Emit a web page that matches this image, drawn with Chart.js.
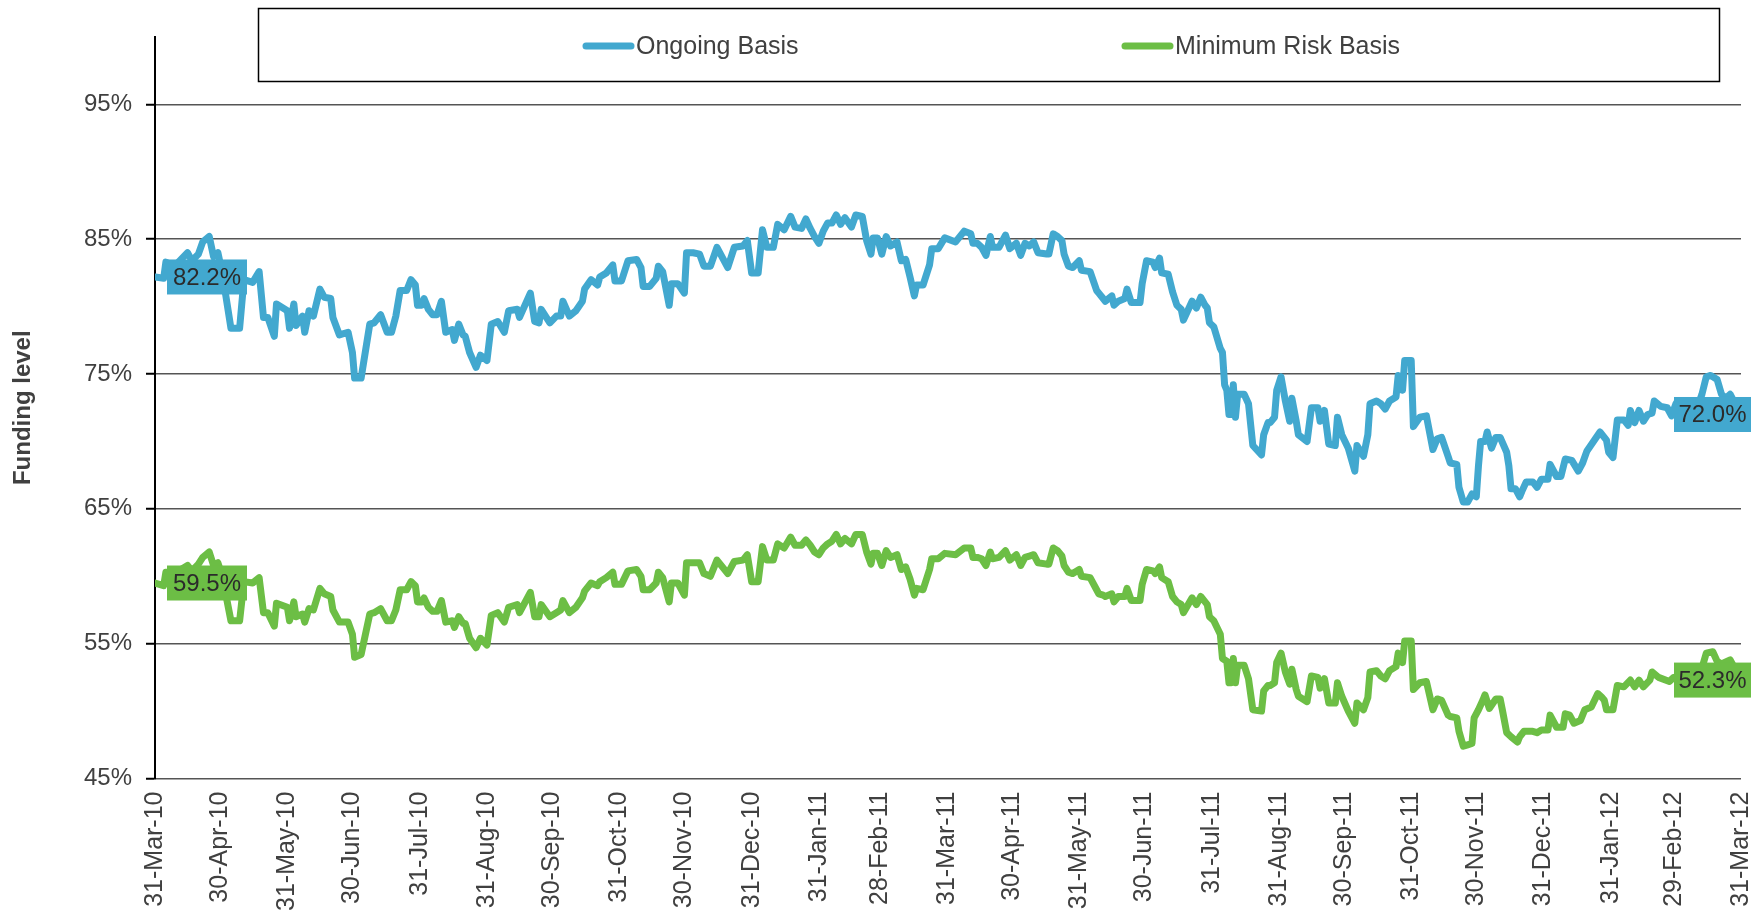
<!DOCTYPE html>
<html>
<head>
<meta charset="utf-8">
<script src="https://cdn.jsdelivr.net/npm/chart.js@4.4.1/dist/chart.umd.min.js"></script>
<style>
html,body{margin:0;padding:0;background:#fff;}
#wrap{width:1762px;height:912px;}
</style>
</head>
<body>
<div id="wrap"><canvas id="c" width="1762" height="912"></canvas></div>
<script>
// ---- data ----
const startDate = '31-Mar-10';
const seriesNames = ['Ongoing Basis', 'Minimum Risk Basis'];
const seriesColors = ['#42A8CF', '#6CBE45'];
const yAxisTitle = 'Funding level';
const yTicks = [45, 55, 65, 75, 85, 95];
const yMin = 45, yMax = 100;
const tickLabels = ['31-Mar-10','30-Apr-10','31-May-10','30-Jun-10','31-Jul-10','31-Aug-10','30-Sep-10',
  '31-Oct-10','30-Nov-10','31-Dec-10','31-Jan-11','28-Feb-11','31-Mar-11','30-Apr-11','31-May-11',
  '30-Jun-11','31-Jul-11','31-Aug-11','30-Sep-11','31-Oct-11','30-Nov-11','31-Dec-11','31-Jan-12',
  '29-Feb-12','31-Mar-12'];

// days since 31-Mar-10
const ongoingDays = [0,4,5,9,15,17,20,22,25,27,29,31,35,39,41,45,48,50,52,55,56,61,62,64,65,68,69,71,73,76,78,81,82,85,89,91,92,95,99,101,104,107,109,111,113,116,118,120,121,123,124,126,128,130,132,134,137,138,140,142,143,145,148,150,153,155,158,161,163,167,168,173,175,177,178,182,185,187,188,191,194,197,198,201,204,205,208,211,212,215,218,222,224,225,228,231,232,234,237,238,241,244,245,248,251,253,256,259,264,267,271,273,275,278,280,282,285,287,290,293,295,298,300,302,304,306,308,310,312,314,316,318,321,323,326,328,330,331,333,335,337,339,342,344,346,348,350,351,354,357,358,361,364,369,373,376,377,379,381,383,385,386,389,392,394,397,399,401,403,405,407,411,412,414,416,418,419,421,423,426,427,431,434,435,437,438,441,442,444,447,448,450,454,455,457,460,461,463,464,467,469,471,473,474,478,480,482,484,485,486,488,491,492,493,494,495,496,497,498,499,502,504,506,510,511,513,514,516,517,519,521,523,524,526,527,531,533,536,537,539,541,544,545,547,550,553,554,557,559,560,563,565,567,569,572,573,575,576,579,580,583,586,589,591,593,596,597,600,601,603,605,607,609,610,611,613,614,616,618,620,623,624,625,627,629,630,632,635,637,639,642,643,646,648,650,653,656,658,660,663,666,669,670,672,674,677,679,680,682,684,686,688,690,691,694,697,699,701,704,708,711,713,715,717,720,722,724,726,727,729,731];
const ongoingValues = [82.2,82.1,83.3,83.0,84.0,83.4,83.9,84.8,85.2,83.7,84.0,82.5,78.4,78.4,82.0,81.8,82.6,79.2,79.2,77.8,80.2,79.7,78.4,80.2,78.6,79.3,78.1,79.7,79.3,81.3,80.7,80.6,79.2,77.9,78.1,76.6,74.7,74.7,78.7,78.8,79.4,78.1,78.1,79.3,81.2,81.2,82.0,81.6,80.1,80.1,80.6,79.8,79.4,79.4,80.4,78.1,78.3,77.5,78.7,77.9,77.8,76.6,75.5,76.4,76.0,78.7,78.9,78.1,79.7,79.8,79.2,81.0,78.9,78.8,79.8,78.8,79.3,79.3,80.4,79.3,79.7,80.4,81.3,82.0,81.6,82.2,82.5,83.1,81.9,81.9,83.4,83.5,82.9,81.5,81.5,82.1,83.0,82.6,80.1,81.7,81.7,81.0,84.0,84.0,83.9,83.0,83.0,84.4,82.9,84.4,84.5,84.9,82.5,82.5,85.7,84.4,84.4,86.1,85.7,86.7,85.9,85.8,86.5,85.8,85.2,84.7,85.6,86.2,86.2,86.8,86.1,86.6,85.9,86.8,86.7,84.9,83.9,85.1,85.1,83.9,85.2,84.5,84.8,83.4,83.5,82.2,80.8,81.6,81.6,83.1,84.3,84.3,85.1,84.8,85.6,85.4,84.7,84.7,84.4,83.8,85.2,84.4,84.4,85.3,84.3,84.7,83.8,84.7,84.5,84.8,84.0,83.9,83.9,85.4,85.2,84.9,83.9,83.0,82.9,83.4,82.7,82.6,81.2,81.0,80.6,80.4,80.8,80.1,80.4,80.6,81.3,80.3,80.3,81.7,83.4,83.3,82.9,83.6,82.5,82.4,81.1,80.1,79.8,79.0,80.4,79.9,80.7,80.1,79.9,78.8,78.5,76.9,76.6,74.2,73.8,72.0,72.0,74.2,71.8,73.5,73.5,72.8,69.7,69.0,70.5,71.4,71.4,71.8,73.8,74.8,73.0,71.5,73.2,71.5,70.5,70.0,72.5,72.5,71.5,72.3,69.8,69.7,71.8,70.5,69.5,67.8,69.7,68.9,70.5,72.8,73.0,72.8,72.4,73.0,73.3,74.9,73.8,76.0,76.0,71.1,71.8,71.9,69.4,70.2,70.3,68.9,68.4,68.3,66.6,65.5,65.5,66.1,65.9,68.2,70.0,70.0,70.7,69.5,70.3,70.3,69.2,68.2,66.5,66.5,65.9,66.3,67.0,67.0,66.6,67.2,67.2,68.3,67.4,67.4,68.7,68.6,67.8,68.4,69.3,70.0,70.7,70.1,69.2,68.8,71.6,71.6,71.2,72.3,71.4,72.3,71.5,72.0,72.1,73.0,72.6,72.5,71.9,72.8,72.4,72.8,72.6,73.5,74.8,74.9,74.6,73.5,73.2,73.5,73.2,72.6,72.0];

const minRiskDays = [0,4,5,9,15,17,20,22,25,27,29,31,35,39,41,45,48,50,52,55,56,61,62,64,65,68,69,71,73,76,78,81,82,85,89,91,92,95,99,101,104,107,109,111,113,116,118,120,121,123,124,126,128,130,132,134,137,138,140,142,143,145,148,150,153,155,158,161,163,167,168,173,175,177,178,182,185,187,188,191,194,197,198,201,204,205,208,211,212,215,218,222,224,225,228,231,232,234,237,238,241,244,245,248,251,253,256,259,264,267,271,273,275,278,280,282,285,287,290,293,295,298,300,302,304,306,308,310,312,314,316,318,321,323,326,328,330,331,333,335,337,339,342,344,346,348,350,351,354,357,358,361,364,369,373,376,377,379,381,383,385,386,389,392,394,397,399,401,403,405,407,411,412,414,416,418,419,421,423,426,427,431,434,435,437,438,441,442,444,447,448,450,454,455,457,460,461,463,464,467,469,471,473,474,478,480,482,484,485,486,488,491,492,494,495,496,497,498,499,502,504,506,510,511,513,514,516,517,519,521,523,524,526,527,531,533,536,537,539,541,544,545,547,550,553,554,557,559,560,563,565,567,569,572,573,575,576,579,580,583,586,589,591,593,596,597,600,601,603,605,607,608,610,612,613,615,618,620,621,623,625,628,629,631,635,637,639,642,643,646,649,650,652,654,657,659,662,665,667,668,669,672,674,677,680,682,684,686,689,690,693,698,700,704,708,711,713,715,718,720,722,726,728,731];
const minRiskValues = [59.5,59.3,60.3,60.2,60.8,60.4,60.9,61.4,61.8,60.8,61.0,60.0,56.7,56.7,59.6,59.5,59.9,57.3,57.3,56.3,58.0,57.7,56.7,58.1,57.0,57.2,56.6,57.6,57.5,59.1,58.7,58.5,57.5,56.6,56.6,55.7,54.0,54.2,57.2,57.3,57.6,56.7,56.7,57.5,59.0,59.0,59.6,59.3,58.1,58.1,58.4,57.7,57.4,57.4,58.2,56.6,56.7,56.2,57.0,56.5,56.5,55.4,54.7,55.4,54.9,57.1,57.3,56.6,57.7,57.9,57.3,58.8,57.0,57.0,57.9,57.0,57.3,57.5,58.2,57.3,57.7,58.4,58.9,59.5,59.3,59.6,59.9,60.3,59.4,59.4,60.4,60.5,60.0,59.0,59.0,59.5,60.3,59.9,58.1,59.5,59.5,58.6,61.0,61.0,61.0,60.2,60.0,61.2,60.2,61.1,61.2,61.6,59.6,59.6,62.2,61.2,61.2,62.4,62.1,62.9,62.3,62.3,62.7,62.3,61.8,61.6,62.1,62.4,62.6,63.1,62.4,62.8,62.4,63.1,63.1,61.8,60.9,61.7,61.7,60.8,61.9,61.4,61.6,60.5,60.7,59.8,58.6,59.1,59.0,60.5,61.3,61.3,61.7,61.6,62.1,62.1,61.4,61.4,61.3,60.8,61.8,61.3,61.4,61.9,61.2,61.6,60.8,61.4,61.5,61.6,61.0,60.9,60.9,62.1,61.9,61.5,60.8,60.3,60.2,60.5,60.0,59.9,59.0,58.7,58.6,58.5,58.7,58.1,58.5,58.5,59.1,58.2,58.2,59.4,60.5,60.4,60.2,60.7,59.9,59.6,58.5,58.1,57.9,57.3,58.4,57.9,58.5,58.1,57.9,57.0,56.7,55.7,53.9,53.7,52.1,52.1,53.9,52.1,53.4,53.4,52.4,50.1,50.0,51.5,51.9,51.9,52.1,53.6,54.3,52.9,52.0,53.1,51.6,51.1,50.7,52.6,52.5,51.7,52.4,50.6,50.6,52.1,51.1,50.0,49.1,50.6,50.1,51.0,52.9,53.0,52.6,52.4,53.0,53.3,54.3,53.6,55.2,55.2,51.6,52.1,52.2,50.1,50.9,50.8,49.7,49.6,49.5,48.5,47.4,47.5,47.6,49.5,50.1,50.8,51.2,50.2,50.9,50.9,50.1,48.4,48.1,47.7,48.1,48.5,48.5,48.4,48.6,48.6,49.7,48.8,48.8,49.8,49.7,49.1,49.3,50.1,50.3,51.3,51.0,50.8,50.1,50.1,51.9,51.8,52.3,51.8,52.3,51.8,52.3,52.9,52.5,52.2,52.5,52.6,52.8,52.7,53.2,54.3,54.4,53.7,53.5,53.8,53.2,52.3];

// ---- helpers ----
const MONTHS = ['Jan','Feb','Mar','Apr','May','Jun','Jul','Aug','Sep','Oct','Nov','Dec'];
function toUTC(label) {
  const [d, m, y] = label.split('-');
  return Date.UTC(2000 + Number(y), MONTHS.indexOf(m), Number(d));
}
const t0 = toUTC(startDate);
const dayIndex = label => Math.round((toUTC(label) - t0) / 86400000);
const xTickValues = tickLabels.map(dayIndex);

const FONT = "'Liberation Sans', Arial, Helvetica, sans-serif";
const TEXT = '#404040';

const toPoints = (days, vals) => days.map((d, i) => ({ x: d, y: vals[i] }));

// legend box drawn over the top of the plot, as in the source
const legendBox = {
  id: 'legendBox',
  afterDraw(chart) {
    const ctx = chart.ctx;
    ctx.save();
    ctx.fillStyle = '#fff';
    ctx.fillRect(258, 8, 1461, 73);
    ctx.strokeStyle = '#000';
    ctx.lineWidth = 1.5;
    ctx.strokeRect(258.5, 8.5, 1461, 73);
    const starts = [582, 1121];
    const cy = 46;
    chart.data.datasets.forEach((ds, i) => {
      const x = starts[i];
      ctx.strokeStyle = ds.borderColor;
      ctx.lineWidth = 7;
      ctx.lineCap = 'round';
      ctx.beginPath();
      ctx.moveTo(x + 4, cy);
      ctx.lineTo(x + 49, cy);
      ctx.stroke();
      ctx.fillStyle = TEXT;
      ctx.font = '25px ' + FONT;
      ctx.textBaseline = 'middle';
      ctx.textAlign = 'left';
      ctx.fillText(ds.label, x + 54, cy + 1);
    });
    ctx.restore();
  }
};

// value labels at first and last points
const endLabels = {
  id: 'endLabels',
  afterDatasetsDraw(chart) {
    const ctx = chart.ctx;
    ctx.save();
    ctx.font = '24px ' + FONT;
    ctx.textBaseline = 'middle';
    ctx.textAlign = 'center';
    chart.data.datasets.forEach((ds, i) => {
      const meta = chart.getDatasetMeta(i);
      const pts = meta.data;
      const first = pts[0], last = pts[pts.length - 1];
      const items = [
        { p: first, v: ds.data[0].y, left: first.x + 12, w: 80 },
        { p: last, v: ds.data[ds.data.length - 1].y, left: last.x - 67, w: 77 }
      ];
      items.forEach(it => {
        const h = 35;
        ctx.fillStyle = ds.borderColor;
        ctx.fillRect(it.left, it.p.y - h / 2, it.w, h);
        ctx.fillStyle = '#2b2b2b';
        ctx.fillText(it.v.toFixed(1) + '%', it.left + it.w / 2, it.p.y + 1);
      });
    });
    ctx.restore();
  }
};

new Chart(document.getElementById('c'), {
  type: 'line',
  data: {
    datasets: [
      { label: seriesNames[0], data: toPoints(ongoingDays, ongoingValues), borderColor: seriesColors[0] },
      { label: seriesNames[1], data: toPoints(minRiskDays, minRiskValues), borderColor: seriesColors[1] }
    ]
  },
  options: {
    responsive: false,
    animation: false,
    elements: {
      line: { borderWidth: 7, tension: 0, borderJoinStyle: 'round', borderCapStyle: 'round', fill: false },
      point: { radius: 0, hoverRadius: 0 }
    },
    layout: { padding: { left: 0, right: 21, top: 37, bottom: 0 } },
    plugins: { legend: { display: false }, tooltip: { enabled: false } },
    scales: {
      x: {
        type: 'linear',
        min: xTickValues[0],
        max: xTickValues[xTickValues.length - 1],
        afterBuildTicks: s => { s.ticks = xTickValues.map(v => ({ value: v })); },
        afterFit: s => { s.height = 133.5; s.paddingLeft = 0; s.paddingRight = 0; },
        grid: { display: false, drawTicks: false },
        border: { display: false },
        ticks: {
          autoSkip: false, maxRotation: 90, minRotation: 90, padding: 13,
          color: TEXT, font: { size: 25, family: FONT },
          callback: (v, i) => tickLabels[i]
        }
      },
      y: {
        min: yMin, max: yMax,
        afterBuildTicks: s => { s.ticks = yTicks.map(v => ({ value: v })); },
        afterFit: s => { s.width = 155; s.paddingTop = 0; s.paddingBottom = 0; },
        grid: { color: '#555555', lineWidth: 1.5, drawTicks: true, tickLength: 9, tickColor: '#000', tickWidth: 2 },
        border: { display: true, color: '#000', width: 2 },
        ticks: { padding: 14, color: TEXT, font: { size: 24, family: FONT }, callback: v => v + '%' },
        title: { display: true, text: yAxisTitle, color: TEXT, font: { size: 24, weight: 'bold', family: FONT }, padding: { top: 9, bottom: 0 } }
      }
    }
  },
  plugins: [endLabels, legendBox]
});
</script>
</body>
</html>
